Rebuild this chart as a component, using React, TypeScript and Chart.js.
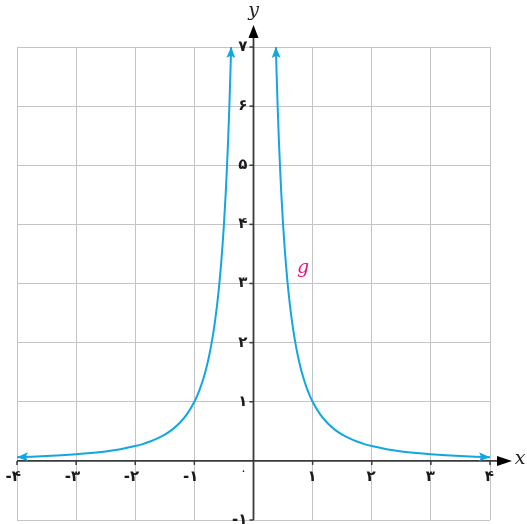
import React, { useEffect, useRef } from "react";
import { Chart, registerables } from "chart.js";

Chart.register(...registerables);

// Curve g(x)
const leftX = [-4, -3.75, -3.5, -3.25, -3, -2.75, -2.5, -2.25, -2, -1.875, -1.75, -1.625, -1.5, -1.375, -1.25, -1.125, -1, -0.95, -0.9, -0.85, -0.8, -0.75, -0.7, -0.65, -0.6, -0.55, -0.5, -0.47, -0.45, -0.43, -0.41, -0.39, -0.378];
const leftY = [0.0625, 0.0711, 0.0816, 0.0947, 0.111, 0.132, 0.16, 0.198, 0.25, 0.284, 0.327, 0.379, 0.444, 0.529, 0.64, 0.79, 1, 1.108, 1.235, 1.384, 1.5625, 1.778, 2.041, 2.367, 2.778, 3.306, 4, 4.527, 4.938, 5.408, 5.949, 6.575, 7];
const rightX = [0.378, 0.39, 0.41, 0.43, 0.45, 0.47, 0.5, 0.55, 0.6, 0.65, 0.7, 0.75, 0.8, 0.85, 0.9, 0.95, 1, 1.125, 1.25, 1.375, 1.5, 1.625, 1.75, 1.875, 2, 2.25, 2.5, 2.75, 3, 3.25, 3.5, 3.75, 4];
const rightY = [7, 6.575, 5.949, 5.408, 4.938, 4.527, 4, 3.306, 2.778, 2.367, 2.041, 1.778, 1.5625, 1.384, 1.235, 1.108, 1, 0.79, 0.64, 0.529, 0.444, 0.379, 0.327, 0.284, 0.25, 0.198, 0.16, 0.132, 0.111, 0.0947, 0.0816, 0.0711, 0.0625];

// Ticks
const xTicks = [-4, -3, -2, -1, 1, 2, 3, 4];
const xTickLabels = ["-۴", "-۳", "-۲", "-۱", "۱", "۲", "۳", "۴"];
const yTicks = [-1, 1, 2, 3, 4, 5, 6, 7];
const yTickLabels = ["-۱", "۱", "۲", "۳", "۴", "۵", "۶", "۷"];
const originLabel = "۰";

const curveColor = "#12a6e2";
const axisColor = "#3a3a3a";

function arrowHead(ctx: CanvasRenderingContext2D, tipX: number, tipY: number, fromX: number, fromY: number, len: number, half: number, color: string) {
  const ang = Math.atan2(tipY - fromY, tipX - fromX);
  ctx.save();
  ctx.translate(tipX, tipY);
  ctx.rotate(ang);
  ctx.beginPath();
  ctx.moveTo(0, 0);
  ctx.lineTo(-len, -half);
  ctx.lineTo(-len * 0.8, 0);
  ctx.lineTo(-len, half);
  ctx.closePath();
  ctx.fillStyle = color;
  ctx.fill();
  ctx.restore();
}

const overlay = {
  id: "overlay",
  beforeDatasetsDraw(chart: any) {
    const ctx = chart.ctx as CanvasRenderingContext2D;
    const xs = chart.scales.x;
    const ys = chart.scales.y;
    const x0 = xs.getPixelForValue(0);
    const y0 = ys.getPixelForValue(0);
    const left = xs.getPixelForValue(-4);
    const bottom = ys.getPixelForValue(-1);
    ctx.save();
    ctx.strokeStyle = axisColor;
    ctx.lineWidth = 1.8;
    ctx.beginPath();
    ctx.moveTo(left, y0);
    ctx.lineTo(503, y0);
    ctx.stroke();
    ctx.beginPath();
    ctx.moveTo(x0, bottom);
    ctx.lineTo(x0, 32);
    ctx.stroke();
    ctx.restore();
    ctx.save();
    ctx.beginPath();
    ctx.moveTo(512, y0);
    ctx.lineTo(497, y0 - 5);
    ctx.lineTo(497, y0 + 5);
    ctx.closePath();
    ctx.fillStyle = "#000";
    ctx.fill();
    ctx.beginPath();
    ctx.moveTo(x0, 25);
    ctx.lineTo(x0 - 5, 38);
    ctx.lineTo(x0 + 5, 38);
    ctx.closePath();
    ctx.fill();
    ctx.restore();
    ctx.save();
    ctx.strokeStyle = axisColor;
    ctx.lineWidth = 1.5;
    xTicks.forEach((v) => {
      const px = xs.getPixelForValue(v);
      ctx.beginPath();
      ctx.moveTo(px, y0);
      ctx.lineTo(px, y0 + 4);
      ctx.stroke();
    });
    yTicks.forEach((v) => {
      const py = ys.getPixelForValue(v);
      ctx.beginPath();
      ctx.moveTo(x0, py);
      ctx.lineTo(x0 - 4, py);
      ctx.stroke();
    });
    ctx.restore();
    ctx.save();
    ctx.fillStyle = "#1a1a1a";
    ctx.font = "bold 15px 'DejaVu Sans'";
    ctx.textBaseline = "middle";
    ctx.textAlign = "right";
    xTicks.forEach((v, i) => {
      const px = xs.getPixelForValue(v);
      ctx.fillText(xTickLabels[i], px + 4, y0 + 16);
    });
    yTicks.forEach((v, i) => {
      const py = ys.getPixelForValue(v);
      ctx.fillText(yTickLabels[i], x0 - 6, py);
    });
    ctx.textAlign = "center";
    ctx.font = "13px 'DejaVu Sans'";
    ctx.fillText(originLabel, x0 - 10, y0 + 11);
    ctx.restore();
    ctx.save();
    ctx.fillStyle = "#222";
    ctx.font = "italic 19px 'DejaVu Serif'";
    ctx.textBaseline = "middle";
    ctx.textAlign = "center";
    ctx.fillText("x", 520, y0 - 2);
    ctx.fillText("y", x0, 11);
    ctx.fillStyle = "#e5167f";
    ctx.fillText("g", xs.getPixelForValue(0.84), ys.getPixelForValue(3.26));
    ctx.restore();
  },
  afterDatasetsDraw(chart: any) {
    const ctx = chart.ctx as CanvasRenderingContext2D;
    const xs = chart.scales.x;
    const ys = chart.scales.y;
    const ends = [
      [leftX[0], leftY[0], leftX[1], leftY[1]],
      [leftX[leftX.length - 1], leftY[leftY.length - 1], leftX[leftX.length - 2], leftY[leftY.length - 2]],
      [rightX[0], rightY[0], rightX[1], rightY[1]],
      [rightX[rightX.length - 1], rightY[rightY.length - 1], rightX[rightX.length - 2], rightY[rightY.length - 2]],
    ];
    ends.forEach(([tx, ty, fx, fy]) => {
      arrowHead(ctx, xs.getPixelForValue(tx), ys.getPixelForValue(ty), xs.getPixelForValue(fx), ys.getPixelForValue(fy), 11, 4.5, curveColor);
    });
  },
};

export default function App() {
  const ref = useRef<HTMLCanvasElement | null>(null);
  useEffect(() => {
    if (!ref.current) return;
    const chart = new Chart(ref.current, {
      type: "scatter",
      data: {
        datasets: [
          {
            data: leftX.map((x, i) => ({ x, y: leftY[i] })),
            showLine: true,
            borderColor: curveColor,
            borderWidth: 2,
            pointRadius: 0,
            cubicInterpolationMode: "monotone",
            fill: false,
          },
          {
            data: rightX.map((x, i) => ({ x, y: rightY[i] })),
            showLine: true,
            borderColor: curveColor,
            borderWidth: 2,
            pointRadius: 0,
            cubicInterpolationMode: "monotone",
            fill: false,
          },
        ],
      },
      options: {
        responsive: false,
        animation: false,
        layout: { padding: { left: 17, right: 37, top: 47, bottom: 4 } },
        plugins: { legend: { display: false }, tooltip: { enabled: false } },
        scales: {
          x: {
            type: "linear",
            min: -4,
            max: 4,
            ticks: { display: false, stepSize: 1 },
            grid: { color: "#c4c4c4", lineWidth: 1, drawTicks: false },
            border: { display: false },
            afterFit: (s: any) => { s.height = 0; },
          },
          y: {
            type: "linear",
            min: -1,
            max: 7,
            ticks: { display: false, stepSize: 1 },
            grid: { color: "#c4c4c4", lineWidth: 1, drawTicks: false },
            border: { display: false },
            afterFit: (s: any) => { s.width = 0; },
          },
        },
      },
      plugins: [overlay],
    } as any);
    return () => chart.destroy();
  }, []);
  return (
    <div style={{ position: "absolute", left: 0, top: 0, width: 527, height: 524, background: "#fff" }}>
      <canvas ref={ref} width={527} height={524} style={{ width: 527, height: 524 }} />
    </div>
  );
}
